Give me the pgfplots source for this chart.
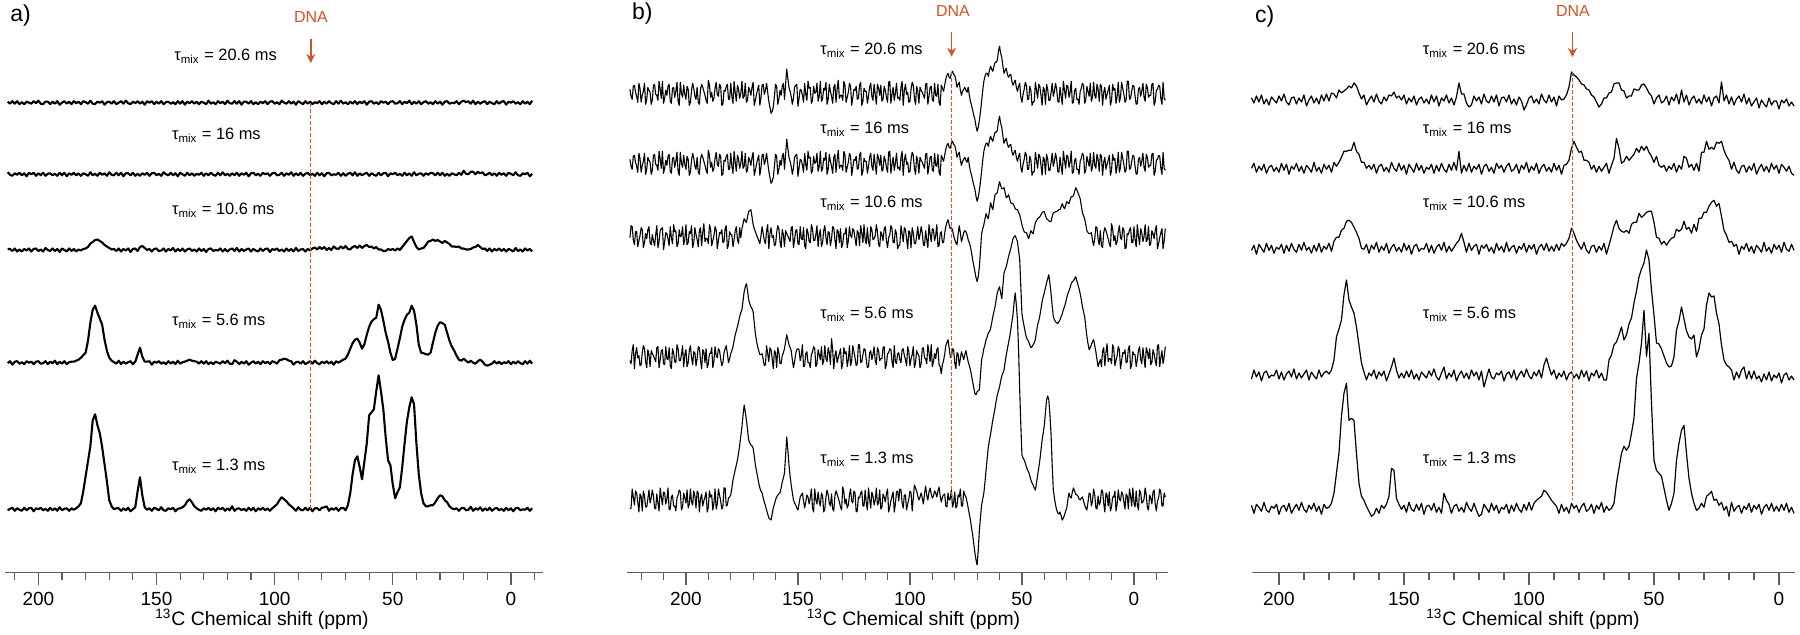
\documentclass[border=0pt]{standalone}
\usepackage{fontspec}
\setmainfont{Liberation Sans}
\usepackage{pgfplots}
\pgfplotsset{compat=1.18}
\usepackage{pgfplotstable}
\usetikzlibrary{arrows.meta}
\definecolor{dna}{RGB}{214,82,38}
\definecolor{axgray}{RGB}{95,95,95}

\pgfplotsset{
  nmr/.style={
    scale only axis, height=286.35pt, ymin=0, ymax=572.7,
    x dir=reverse, axis x line=bottom, axis y line=none,
    clip=false, tick align=outside,
    x axis line style={-, line width=0.7pt, draw=axgray},
    every tick/.style={line width=0.6pt, draw=axgray},
    major tick length=6pt, minor tick length=3.5pt,
    xtick={0,50,...,200},
    xticklabel style={font=\fontsize{9.5}{11}\selectfont},
    /pgf/number format/assume math mode=true,
    xlabel={\textsuperscript{13}C Chemical shift (ppm)},
  },
  trA/.style={black, line width=1.05pt, line join=round},
  trB/.style={black, line width=0.55pt, line join=round},
  trC/.style={black, line width=0.6pt, line join=round},
  dnaline/.style={dna, line width=0.7pt, dash pattern=on 2pt off 1pt},
  dnaarrow/.style={dna, line width=0.8pt, -{Stealth[length=4.5pt,width=4.5pt]}},
}
\tikzset{
  tau/.style={anchor=base west, inner sep=0pt, font=\fontsize{8.2}{10}\selectfont},
  dnat/.style={anchor=base, inner sep=0pt, text=dna, font=\fontsize{8}{9}\selectfont},
}

% ---------------- panel a (ppm = 213 - index) ----------------
\pgfplotstableread[header=false,row sep=\\]{
1\\ -1\\ 1.5\\ -1\\ 1.5\\ -1.5\\ 0.5\\ -1.5\\ 1\\ 0\\
-1\\ 1.5\\ -0.5\\ 2\\ -1\\ -1.5\\ 1\\ 1\\ -1.5\\ 1\\
-1\\ 1.5\\ -2\\ 0\\ 1.5\\ -1\\ 1\\ -1.5\\ 1.5\\ -0.5\\
1\\ -1.5\\ 1.5\\ 0.5\\ -1\\ 2\\ -1\\ -1.5\\ 1\\ 0\\
1.5\\ -2\\ 0.5\\ 1\\ -1\\ 1.5\\ -1.5\\ 0\\ 1.5\\ -1\\
2\\ -0.5\\ -1.5\\ 1\\ -0.5\\ 1.5\\ -1\\ 1\\ -2\\ 1.5\\
0\\ 1.5\\ -1.5\\ 1\\ -1\\ 1.5\\ -1.5\\ 0.5\\ 1\\ -1\\
0.5\\ -1.5\\ 1.5\\ -1\\ 1.5\\ -2\\ 1\\ -0.5\\ 1.5\\ -1\\
1\\ -1.5\\ 1\\ 0\\ -1.5\\ 2\\ -1\\ 0.5\\ -1.5\\ 1.5\\
-0.5\\ 1\\ -1.5\\ 2\\ -0.5\\ -1\\ 1.5\\ -1\\ 1.5\\ -2\\
1\\ 1\\ -1\\ 1.5\\ -1.5\\ 0.5\\ -1.5\\ 1\\ -0.5\\ 1.5\\
-1.5\\ 1\\ 1.5\\ -1\\ 0.5\\ -1.5\\ 2\\ 0\\ -1\\ 1.5\\
-1\\ 1\\ -2\\ 1.5\\ 0\\ -1.5\\ 1.5\\ -1\\ 1\\ -1.5\\
0.5\\ -0.5\\ 1.5\\ -1.5\\ 1\\ -1\\ 1.5\\ -0.5\\ -1.5\\ 1.5\\
-1\\ 2\\ -1\\ 0.5\\ -1.5\\ 1\\ -1\\ 1.5\\ -1.5\\ 1\\
-0.5\\ 1.5\\ -2\\ 1\\ 1.5\\ -1\\ 0.5\\ -1.5\\ 1.5\\ 0\\
1\\ -1.5\\ 1\\ 1.5\\ -1\\ -0.5\\ 1.5\\ -1.5\\ 1\\ -0.5\\
2\\ -1.5\\ 1\\ -1\\ 1.5\\ -1.5\\ 0.5\\ 1.5\\ -1\\ 0.5\\
-1.5\\ 1.5\\ -1\\ 1\\ -2\\ 1\\ 1.5\\ -1\\ 0\\ -0.5\\
1.5\\ -1.5\\ 1\\ 2\\ 0.5\\ 1.5\\ -1\\ 2\\ -1.5\\ 1\\
-1\\ 0.5\\ 1.5\\ -1.5\\ 1\\ -0.5\\ -1.5\\ 1.5\\ -1\\ 1\\
1.5\\ -2\\ 1\\ 0\\ 1.5\\ -1\\ 0.5\\ -1.5\\ 1.5\\ -1\\
1\\ -1.5\\ 2\\
}\TaA
\pgfplotstableread[header=false,row sep=\\]{
2\\ -0.5\\ -1.5\\ 1\\ -0.5\\ 1.5\\ -1\\ 1\\ -2\\ 1.5\\
0\\ 1.5\\ -1.5\\ 1\\ -1\\ 1.5\\ -1.5\\ 0.5\\ 1\\ -1\\
0.5\\ -1.5\\ 1.5\\ -1\\ 1.5\\ -2\\ 1\\ -0.5\\ 1.5\\ -1\\
1\\ -1.5\\ 1\\ 0\\ -1.5\\ 2\\ -1\\ 0.5\\ -1.5\\ 1.5\\
-0.5\\ 1\\ -1.5\\ 2\\ -0.5\\ -1\\ 1.5\\ -1\\ 1.5\\ -2\\
1\\ 1\\ -1\\ 1.5\\ -1.5\\ 0.5\\ -1.5\\ 1\\ -0.5\\ 1.5\\
-1.5\\ 1\\ 1.5\\ -1\\ 0.5\\ -1.5\\ 2\\ 0\\ -1\\ 1.5\\
-1\\ 1\\ -2\\ 1.5\\ 0\\ -1.5\\ 1.5\\ -1\\ 1\\ -1.5\\
0.5\\ -0.5\\ 1.5\\ -1.5\\ 1\\ -1\\ 1.5\\ -0.5\\ -1.5\\ 1.5\\
-1\\ 2\\ -1\\ 0.5\\ -1.5\\ 1\\ -1\\ 1.5\\ -1.5\\ 1\\
-0.5\\ 1.5\\ -2\\ 1\\ 1.5\\ -1\\ 0.5\\ -1.5\\ 1.5\\ 0\\
1\\ -1.5\\ 1\\ 1.5\\ -1\\ -0.5\\ 1.5\\ -1.5\\ 1\\ -0.5\\
2\\ -1.5\\ 1\\ -1\\ 1.5\\ -1.5\\ 0.5\\ 1.5\\ -1\\ 0.5\\
-1.5\\ 1.5\\ -1\\ 1\\ -2\\ 1\\ 1.5\\ -1\\ 0\\ -0.5\\
1.5\\ -1.5\\ 1\\ -1.5\\ 0.5\\ 1.5\\ -1\\ 2\\ -1.5\\ 1\\
-1\\ 0.5\\ 1.5\\ -1.5\\ 1\\ -0.5\\ -1.5\\ 1.5\\ -1\\ 1\\
1.5\\ -2\\ 1\\ 0\\ 1.5\\ -1\\ 0.5\\ -1.5\\ 1.5\\ -1\\
1\\ -1.5\\ 2\\ -1\\ 0.5\\ 1\\ -1.5\\ 1\\ -0.5\\ 1.5\\
1\\ -1\\ 1.5\\ -1\\ 1.5\\ -1.5\\ 0.5\\ -1.5\\ 1\\ 0\\
-1\\ 1.5\\ -0.5\\ 3.5\\ 0.5\\ 0\\ 2.5\\ 2.5\\ 0\\ 2.5\\
1\\ 2\\ -1\\ 0\\ 1.5\\ -1\\ 1\\ -1.5\\ 1.5\\ -0.5\\
1\\ -1.5\\ 1.5\\ 0.5\\ -1\\ 2\\ -1\\ -1.5\\ 1\\ 0\\
1.5\\ -2\\ 0.5\\
}\TaB
\pgfplotstableread[header=false,row sep=\\]{
1\\ 1\\ -1\\ 1.5\\ -1.5\\ 0.5\\ -1.5\\ 1\\ -0.5\\ 1.5\\
-1.5\\ 1\\ 1.5\\ -1\\ 0.5\\ -1.5\\ 2\\ 0\\ -1\\ 1.5\\
-1\\ 1\\ -2\\ 1.5\\ 0\\ -1.5\\ 1.5\\ -1\\ 1\\ -1.5\\
0.5\\ -0.5\\ 1\\ 1.5\\ 3\\ 6.5\\ 8\\ 10\\ 10.5\\ 9\\
7.5\\ 5\\ 3.5\\ 2\\ 0.5\\ 1\\ -1\\ 1.5\\ -1.5\\ 1\\
-0.5\\ 1.5\\ -2\\ 1\\ 1.5\\ -1\\ 3\\ 4\\ 2\\ 0\\
1\\ -1.5\\ 1\\ 1.5\\ -1\\ -0.5\\ 1.5\\ -1.5\\ 1\\ -0.5\\
2\\ -1.5\\ 1\\ -1\\ 1.5\\ -1.5\\ 0.5\\ 1.5\\ -1\\ 0.5\\
-1.5\\ 1.5\\ -1\\ 1\\ -2\\ 1\\ 1.5\\ -1\\ 0\\ -0.5\\
1.5\\ -1.5\\ 1\\ -1.5\\ 0.5\\ 1.5\\ -1\\ 2\\ -1.5\\ 1\\
-1\\ 0.5\\ 1.5\\ -1.5\\ 1\\ -0.5\\ -1.5\\ 1.5\\ -1\\ 1\\
1.5\\ -2\\ 1\\ 0\\ 1.5\\ -1\\ 0.5\\ -1.5\\ 1.5\\ -1\\
1\\ -1.5\\ 2\\ -1\\ 0.5\\ 1\\ -1.5\\ 1\\ -0.5\\ 1.5\\
2.5\\ 0.5\\ 3\\ 1\\ 3\\ 0\\ 2\\ 0\\ 3.5\\ 1.5\\
1\\ 3.5\\ 1.5\\ 4\\ 1\\ 0.5\\ 3\\ 4\\ 2\\ 4.5\\
2\\ 4\\ 5\\ 3\\ 3.5\\ 1.5\\ 3\\ 0.5\\ 0.5\\ -1\\
-1\\ 1\\ 0\\ 1\\ -0.5\\ 1.5\\ 0\\ 3\\ 6\\ 9\\
12\\ 13.5\\ 8\\ 3\\ 0.5\\ 1.5\\ 2\\ 5\\ 8.5\\ 9\\
10.5\\ 9\\ 10\\ 8.5\\ 7\\ 9\\ 7.5\\ 6\\ 3.5\\ 3.5\\
3\\ 3.5\\ 1.5\\ 1.5\\ 0.5\\ 0.5\\ 1\\ 2.5\\ 3\\ 5\\
3\\ 1\\ 1.5\\ -1\\ 1.5\\ -1.5\\ 1\\ -0.5\\ 1.5\\ -1\\
1\\ -1.5\\ 1\\ 0\\ -1.5\\ 2\\ -1\\ 0.5\\ -1.5\\ 1.5\\
-0.5\\ 1\\ -1.5\\
}\TaC
\pgfplotstableread[header=false,row sep=\\]{
-0.5\\ 1.5\\ -2\\ 1\\ 1.5\\ -1\\ 0.5\\ -1.5\\ 1.5\\ 0\\
1\\ -1.5\\ 1\\ 1.5\\ -1\\ -0.5\\ 1.5\\ -1.5\\ 1\\ -0.5\\
2\\ -1.5\\ 1\\ -1\\ 1.5\\ -1.5\\ 0.5\\ 1\\ 1\\ 2\\
3\\ 5\\ 7.5\\ 10\\ 22\\ 40\\ 53\\ 57\\ 50\\ 44\\
38\\ 23\\ 12\\ 5\\ 2\\ 0.5\\ -1\\ 2\\ -1.5\\ 1\\
-1\\ 0.5\\ 1.5\\ -1.5\\ 1\\ 8\\ 15\\ 6\\ 1\\ 1\\
1.5\\ -2\\ 1\\ 0\\ 1.5\\ -1\\ 0.5\\ -1.5\\ 1.5\\ -1\\
1\\ -1.5\\ 2\\ -1\\ 0.5\\ 1\\ 2\\ 3\\ 2\\ 1.5\\
1\\ -1\\ 1.5\\ -1\\ 1.5\\ -1.5\\ 0.5\\ -1.5\\ 1\\ 0\\
-1\\ 1.5\\ -0.5\\ 2\\ -1\\ -1.5\\ 2.5\\ 1\\ -1.5\\ 1\\
-1\\ 1.5\\ -2\\ 0\\ 1.5\\ -1\\ 1\\ -1.5\\ 1.5\\ -0.5\\
1\\ -1.5\\ 1.5\\ 0.5\\ -1\\ 2.5\\ 3\\ 4\\ 3.5\\ 2\\
1.5\\ -2\\ 0.5\\ 1\\ -1\\ 1.5\\ -1.5\\ 0\\ 1.5\\ -1\\
2\\ -0.5\\ -1.5\\ 1\\ -0.5\\ 1.5\\ -1\\ 1\\ -2\\ 1.5\\
0\\ 1.5\\ 3\\ 4\\ 8\\ 14\\ 19.5\\ 23\\ 24\\ 20\\
14\\ 18.5\\ 28\\ 36\\ 41\\ 43.5\\ 45\\ 58\\ 53\\ 42\\
30\\ 21\\ 10\\ 2.5\\ 4\\ 14\\ 24.5\\ 36\\ 43\\ 48\\
50\\ 57\\ 52\\ 38\\ 18\\ 10\\ 9.5\\ 8.5\\ 8\\ 10\\
20\\ 30\\ 37\\ 40.5\\ 39.5\\ 38\\ 30\\ 22\\ 16\\ 12\\
7\\ 3\\ 2\\ 4\\ 2\\ 0\\ 2\\ 0\\ -1\\ 1.5\\
3\\ 1\\ -2\\ -3\\ -2\\ -1\\ 1.5\\ -1\\ 1\\ -1.5\\
0.5\\ -0.5\\ 1.5\\ -1.5\\ 1\\ -1\\ 1.5\\ -0.5\\ -1.5\\ 1.5\\
-1\\ 2\\ -1\\
}\TaD
\pgfplotstableread[header=false,row sep=\\]{
-1\\ 0.5\\ 1.5\\ -1.5\\ 1\\ -0.5\\ -1.5\\ 1.5\\ -1\\ 1\\
1.5\\ -2\\ 1\\ 0\\ 1.5\\ -1\\ 0.5\\ -1.5\\ 1.5\\ -1\\
1\\ -1.5\\ 2\\ -1\\ 0.5\\ 1\\ -1.5\\ 1\\ -0.5\\ 1\\
3\\ 6\\ 18\\ 33\\ 48\\ 63\\ 89\\ 95\\ 84\\ 76\\
62\\ 45\\ 28\\ 9\\ 3\\ 0\\ 1\\ 1\\ -1.5\\ 1\\
-1\\ 1.5\\ -2\\ 0\\ 2\\ 18\\ 32\\ 14\\ 2\\ -0.5\\
1\\ -1.5\\ 1.5\\ 0.5\\ -1\\ 2\\ -1\\ -1.5\\ 1\\ 0\\
1.5\\ -2\\ 0.5\\ 1\\ 2\\ 4\\ 8\\ 10\\ 7\\ 3\\
1\\ -0.5\\ -1.5\\ 1\\ -0.5\\ 1.5\\ -1\\ 1\\ -2\\ 1.5\\
0\\ 1.5\\ -1.5\\ 1\\ -1\\ 3\\ -1.5\\ 0.5\\ 1\\ -1\\
0.5\\ -1.5\\ 1.5\\ -1\\ 1.5\\ -2\\ 1\\ -0.5\\ 1.5\\ -1\\
1\\ -1.5\\ 1\\ 3\\ 5\\ 9\\ 12\\ 10\\ 8\\ 5\\
3\\ 1\\ -1.5\\ 2\\ -0.5\\ -1\\ 1.5\\ -1\\ 1.5\\ -2\\
1\\ 1\\ -1\\ 1.5\\ 2\\ 3\\ -1.5\\ 1\\ -0.5\\ 1.5\\
-1.5\\ 1\\ 1.5\\ -1\\ 4\\ 16\\ 35\\ 49\\ 53\\ 42\\
30\\ 48\\ 66\\ 94\\ 97\\ 100\\ 118\\ 134\\ 118\\ 100\\
72\\ 49\\ 44\\ 25\\ 11\\ 17\\ 22\\ 42\\ 66\\ 88\\
102\\ 112\\ 105\\ 66\\ 35\\ 16\\ 6\\ 3\\ 3\\ 4\\
4\\ 7\\ 11\\ 14\\ 13\\ 9\\ 7\\ 3\\ 1\\ 0\\
1\\ -1.5\\ 1\\ 1.5\\ -1\\ -0.5\\ 2.5\\ -1.5\\ 1\\ -0.5\\
2\\ -1.5\\ 1\\ -1\\ 1.5\\ -1.5\\ 0.5\\ 1.5\\ -1\\ 0.5\\
-1.5\\ 1.5\\ -1\\ 1\\ -2\\ 1\\ 1.5\\ -1\\ 0\\ -0.5\\
1.5\\ -1.5\\ 1\\
}\TaE

% ---------------- panel b (ppm = 225 - 0.5*index) ----------------
\pgfplotstableread[header=false,row sep=\\]{
4\\ -3\\ -6\\ 7\\ 8\\ 1\\ -3\\ -9\\ 10\\ 5\\ -9\\ -2\\ 2\\ 10\\ -11\\ -6\\ 6\\ 3\\ 1\\ -11\\
-7\\ 8\\ 9\\ -1\\ -2\\ -7\\ 12\\ 4\\ -5\\ 12\\ -10\\ -5\\ 3\\ -2\\ 7\\ 9\\ -8\\ -10\\ 5\\ 6\\
-4\\ 2\\ 11\\ -8\\ -12\\ 11\\ 0\\ -4\\ 8\\ -1\\ -6\\ 7\\ 4\\ -12\\ -9\\ 3\\ 10\\ 5\\ -3\\ -6\\
6\\ -9\\ -11\\ 4\\ 9\\ 6\\ 2\\ -2\\ -7\\ -10\\ 13\\ 8\\ -4\\ 1\\ -8\\ -5\\ 5\\ 11\\ -1\\ -3\\
9\\ 7\\ -12\\ -11\\ 3\\ 2\\ 7\\ 9\\ -6\\ -6\\ 10\\ -3\\ -10\\ 12\\ 1\\ -8\\ 8\\ 4\\ -5\\ 0\\
12\\ -5\\ -3\\ 10\\ -9\\ -7\\ 6\\ 3\\ -2\\ 6\\ 11\\ -12\\ -7\\ -1\\ 4\\ 8\\ -12\\ -4\\ 8\\ 9\\
-1\\ 3\\ 10\\ 1\\ -8\\ -14\\ -20\\ -18\\ -14\\ -3\\ 9\\ 7\\ -11\\ -6\\ 3\\ -2\\ 7\\ 10\\ -6\\ 9\\
24\\ 15\\ 6\\ 2\\ -3\\ -11\\ -5\\ 6\\ 8\\ 9\\ -13\\ -5\\ 4\\ 3\\ -2\\ -9\\ 10\\ -1\\ -7\\ 12\\
5\\ 6\\ -10\\ -7\\ 7\\ 0\\ 1\\ 10\\ -8\\ -3\\ 12\\ -8\\ -6\\ 5\\ 3\\ 11\\ -11\\ -6\\ 9\\ 2\\
-3\\ -10\\ 6\\ 9\\ -9\\ 4\\ 13\\ -5\\ -2\\ -2\\ -7\\ 12\\ 8\\ -9\\ -4\\ 1\\ 10\\ 7\\ -12\\ -4\\
4\\ 3\\ 7\\ -6\\ -5\\ 8\\ 11\\ -12\\ -8\\ 5\\ 2\\ 2\\ -10\\ -3\\ 6\\ 10\\ -3\\ -7\\ 9\\ -1\\
-11\\ 9\\ 5\\ -2\\ 8\\ -8\\ -6\\ 7\\ 3\\ -4\\ -9\\ 11\\ 12\\ -10\\ -1\\ 6\\ -7\\ 0\\ 10\\ -5\\
-4\\ -7\\ 6\\ 12\\ -12\\ 3\\ 9\\ -1\\ 1\\ -9\\ -8\\ 4\\ 11\\ 8\\ -5\\ -11\\ 7\\ 2\\ -10\\ 6\\
3\\ 1\\ -2\\ -5\\ 9\\ 10\\ -11\\ -3\\ 6\\ 7\\ -7\\ -8\\ 10\\ -2\\ -3\\ 9\\ -9\\ -12\\ 8\\ 5\\
2\\ 8\\ 14\\ 18\\ 20\\ 16\\ 15\\ 20\\ 22\\ 19\\ 18\\ 13\\ 6\\ 9\\ 11\\ 3\\ -2\\ 2\\ 4\\ 6\\
3\\ 1\\ 6\\ -2\\ -8\\ -12\\ -17\\ -22\\ -26\\ -33\\ -38\\ -34\\ -27\\ -18\\ -8\\ 3\\ 12\\ 17\\ 20\\ 20\\
17\\ 23\\ 27\\ 24\\ 22\\ 27\\ 31\\ 31\\ 33\\ 42\\ 47\\ 40\\ 36\\ 27\\ 20\\ 23\\ 25\\ 19\\ 16\\ 18\\
19\\ 12\\ 8\\ 11\\ 13\\ 6\\ 2\\ 7\\ 10\\ -4\\ -9\\ -1\\ 4\\ 11\\ 8\\ -6\\ -6\\ 7\\ 3\\ -12\\
-9\\ -8\\ 11\\ 3\\ -5\\ 9\\ 7\\ -2\\ -12\\ 6\\ 4\\ -11\\ 9\\ 4\\ -7\\ -7\\ 1\\ 10\\ -3\\ 2\\
10\\ 4\\ -8\\ -9\\ 6\\ -3\\ -11\\ 12\\ 3\\ -5\\ 8\\ 7\\ -4\\ 1\\ 12\\ -10\\ -9\\ 3\\ 5\\ -6\\
-6\\ -11\\ 2\\ 5\\ 10\\ 8\\ -10\\ -7\\ 7\\ 2\\ -3\\ 10\\ -8\\ -4\\ 11\\ -2\\ -5\\ 9\\ 4\\ -8\\
9\\ 7\\ -12\\ 1\\ 6\\ -6\\ -1\\ 3\\ 8\\ -12\\ -7\\ 9\\ 3\\ 5\\ -10\\ -3\\ 11\\ -9\\ -4\\ 11\\
5\\ -1\\ -9\\ -7\\ 12\\ 12\\ -6\\ -5\\ 2\\ 8\\ 7\\ -3\\ -11\\ -10\\ 4\\ 6\\ -3\\ 2\\ 10\\ -4\\
-8\\ 9\\ 6\\ -4\\ -2\\ -2\\ 9\\ 10\\ -12\\ -8\\ 3\\ 4\\ 8\\ 7\\ -5\\ -11\\ 11\\ -5\\ -7\\
}\TbA
\pgfplotstableread[header=false,row sep=\\]{
-1\\ 11\\ 10\\ -3\\ -8\\ 5\\ 5\\ -10\\ -4\\ 1\\ 9\\ 7\\ -11\\ -6\\ 3\\ -2\\ 7\\ 10\\ -6\\ -8\\
2\\ -4\\ -9\\ 2\\ 11\\ -11\\ -5\\ 6\\ 8\\ 9\\ -13\\ -5\\ 4\\ 3\\ -2\\ -9\\ 10\\ -1\\ -7\\ 12\\
5\\ 6\\ -10\\ -7\\ 7\\ 0\\ 1\\ 10\\ -8\\ -3\\ 12\\ -8\\ -6\\ 5\\ 3\\ 11\\ -11\\ -6\\ 9\\ 2\\
-3\\ -10\\ 6\\ 9\\ -9\\ 4\\ 13\\ -5\\ -2\\ -2\\ -7\\ 12\\ 8\\ -9\\ -4\\ 1\\ 10\\ 7\\ -12\\ -4\\
4\\ 3\\ 7\\ -6\\ -5\\ 8\\ 11\\ -12\\ -8\\ 5\\ 2\\ 2\\ -10\\ -3\\ 6\\ 10\\ -3\\ -7\\ 9\\ -1\\
8\\ 13\\ 18\\ 16\\ 14\\ 20\\ 25\\ 26\\ 27\\ 20\\ 12\\ 8\\ 5\\ 2\\ -1\\ -4\\ -7\\ 1\\ 10\\ 3\\
-4\\ -7\\ 6\\ 12\\ -12\\ 3\\ 9\\ -1\\ 1\\ -9\\ -8\\ 4\\ 11\\ 8\\ -5\\ -11\\ 7\\ 2\\ -10\\ 6\\
3\\ 1\\ -2\\ -5\\ 9\\ 10\\ -11\\ -3\\ 6\\ 7\\ -7\\ -8\\ 10\\ -2\\ -3\\ 9\\ -9\\ -12\\ 8\\ 4\\
-5\\ -6\\ 12\\ 8\\ -4\\ -4\\ 2\\ 11\\ -10\\ 2\\ 7\\ -10\\ -6\\ 6\\ 11\\ -1\\ -8\\ 5\\ 4\\ -9\\
-2\\ 10\\ 9\\ -3\\ -12\\ 7\\ 5\\ -6\\ 8\\ -11\\ -7\\ 3\\ 3\\ 9\\ -11\\ -4\\ 10\\ 1\\ -1\\ 8\\
6\\ -2\\ -9\\ 6\\ 4\\ -9\\ 11\\ 4\\ -6\\ 12\\ -3\\ -7\\ 9\\ -5\\ -10\\ 10\\ 7\\ -3\\ -2\\ 1\\
12\\ 5\\ -8\\ -10\\ 5\\ 2\\ -4\\ 8\\ 10\\ -4\\ -11\\ -1\\ 2\\ 11\\ 8\\ -6\\ -6\\ 7\\ 3\\ -12\\
-9\\ -8\\ 11\\ 3\\ -5\\ 9\\ 7\\ -2\\ -12\\ 6\\ 4\\ -11\\ 9\\ 4\\ -7\\ -7\\ 1\\ 10\\ -3\\ 2\\
10\\ 4\\ -8\\ -9\\ 6\\ -3\\ -11\\ 12\\ 3\\ -5\\ 8\\ 7\\ -4\\ 1\\ 12\\ -10\\ -9\\ 3\\ 5\\ -6\\
-6\\ 3\\ 10\\ 14\\ 17\\ 12\\ 8\\ 9\\ 7\\ 1\\ -3\\ -6\\ -8\\ 2\\ 11\\ 4\\ -5\\ -1\\ 4\\ 6\\
5\\ 2\\ -3\\ -6\\ -10\\ -16\\ -23\\ -29\\ -35\\ -41\\ -45\\ -40\\ -30\\ -14\\ 3\\ 8\\ 12\\ 18\\ 23\\ 20\\
18\\ 26\\ 34\\ 30\\ 27\\ 35\\ 42\\ 43\\ 44\\ 50\\ 55\\ 51\\ 48\\ 48\\ 49\\ 44\\ 39\\ 40\\ 42\\ 38\\
34\\ 33\\ 33\\ 31\\ 28\\ 27\\ 27\\ 24\\ 22\\ 17\\ 12\\ 8\\ 5\\ 4\\ 4\\ 1\\ -2\\ 2\\ 6\\ 4\\
3\\ 9\\ 14\\ 16\\ 18\\ 19\\ 20\\ 22\\ 24\\ 25\\ 25\\ 21\\ 18\\ 17\\ 16\\ 15\\ 15\\ 20\\ 24\\ 24\\
25\\ 25\\ 26\\ 27\\ 27\\ 30\\ 33\\ 30\\ 28\\ 31\\ 35\\ 34\\ 33\\ 37\\ 40\\ 40\\ 41\\ 45\\ 49\\ 47\\
44\\ 41\\ 38\\ 31\\ 24\\ 21\\ 18\\ 12\\ 6\\ 4\\ 3\\ 3\\ 4\\ -4\\ -9\\ -2\\ 10\\ 9\\ -3\\ -8\\
6\\ -9\\ -11\\ 4\\ 9\\ 6\\ 2\\ -2\\ -7\\ -10\\ 13\\ 8\\ -4\\ 1\\ -8\\ -5\\ 5\\ 11\\ -1\\ -3\\
9\\ 7\\ -12\\ -11\\ 3\\ 2\\ 7\\ 9\\ -6\\ -6\\ 10\\ -3\\ -10\\ 12\\ 1\\ -8\\ 8\\ 4\\ -5\\ 0\\
12\\ -5\\ -3\\ 10\\ -9\\ -7\\ 6\\ 3\\ -2\\ 6\\ 11\\ -12\\ -7\\ -1\\ 4\\ 8\\ -12\\ -4\\ 8\\
}\TbC
\pgfplotstableread[header=false,row sep=\\]{
-4\\ -7\\ 6\\ 12\\ -12\\ 3\\ 9\\ -1\\ 1\\ -9\\ -8\\ 4\\ 11\\ 8\\ -5\\ -11\\ 7\\ 2\\ -10\\ 6\\
3\\ 1\\ -2\\ -5\\ 9\\ 10\\ -11\\ -3\\ 6\\ 7\\ -7\\ -8\\ 10\\ -2\\ -3\\ 9\\ -9\\ -12\\ 8\\ 4\\
-5\\ -6\\ 12\\ 8\\ -4\\ -4\\ 2\\ 11\\ -10\\ 2\\ 7\\ -10\\ -6\\ 6\\ 11\\ -1\\ -8\\ 5\\ 4\\ -9\\
-2\\ 10\\ 9\\ -3\\ -12\\ 7\\ 5\\ -6\\ 8\\ -11\\ -7\\ 3\\ 3\\ 9\\ -11\\ -4\\ 10\\ 1\\ -1\\ 8\\
6\\ -2\\ -9\\ -6\\ 4\\ 8\\ 11\\ 3\\ -6\\ -2\\ 3\\ 6\\ 10\\ 16\\ 22\\ 26\\ 30\\ 35\\ 40\\ 44\\
47\\ 56\\ 65\\ 70\\ 73\\ 66\\ 57\\ 53\\ 50\\ 48\\ 45\\ 34\\ 23\\ 16\\ 10\\ 6\\ 2\\ 2\\ 3\\ -3\\
-9\\ -8\\ 11\\ 3\\ -5\\ 9\\ 7\\ -2\\ -12\\ 6\\ 4\\ -11\\ 9\\ 4\\ -7\\ -7\\ 1\\ 4\\ 8\\ 15\\
22\\ 17\\ 12\\ 9\\ 6\\ -3\\ -11\\ -5\\ 3\\ 7\\ 8\\ 7\\ -4\\ 1\\ 12\\ -10\\ -9\\ 3\\ 5\\ -6\\
-6\\ -11\\ 2\\ 5\\ 10\\ 8\\ -10\\ -7\\ 7\\ 2\\ -3\\ 10\\ -8\\ -4\\ 11\\ -2\\ -5\\ 9\\ 4\\ -8\\
18\\ 7\\ -12\\ 1\\ 6\\ -6\\ -1\\ 3\\ 8\\ -12\\ -7\\ 9\\ 3\\ 5\\ -10\\ -3\\ 11\\ -9\\ -4\\ 11\\
5\\ -1\\ -9\\ -7\\ 12\\ 12\\ -6\\ -5\\ 2\\ 8\\ 7\\ -3\\ -11\\ -10\\ 4\\ 6\\ -3\\ 2\\ 10\\ -4\\
-8\\ 9\\ 6\\ -4\\ -2\\ -2\\ 9\\ 10\\ -12\\ -8\\ 3\\ 4\\ 8\\ 7\\ -5\\ -11\\ 11\\ -5\\ -7\\ 3\\
4\\ -3\\ -6\\ 7\\ 8\\ 1\\ -3\\ -9\\ 10\\ 5\\ -9\\ -2\\ 2\\ 10\\ -11\\ -6\\ 6\\ 3\\ 1\\ -11\\
-7\\ 8\\ 9\\ -1\\ -2\\ -7\\ 12\\ 4\\ -5\\ 12\\ -10\\ -5\\ 3\\ -2\\ 7\\ 9\\ -8\\ -10\\ -17\\ -8\\
-4\\ 2\\ 11\\ 14\\ 17\\ 9\\ 0\\ -1\\ 8\\ 7\\ -6\\ -12\\ 4\\ 3\\ -9\\ -2\\ 5\\ 1\\ -3\\ 2\\
6\\ 0\\ -5\\ -9\\ -13\\ -19\\ -25\\ -31\\ -37\\ -38\\ -35\\ -34\\ -33\\ -18\\ -3\\ 2\\ 8\\ 12\\ 17\\ 20\\
24\\ 25\\ 28\\ 34\\ 40\\ 45\\ 50\\ 57\\ 64\\ 67\\ 70\\ 64\\ 58\\ 71\\ 84\\ 87\\ 90\\ 95\\ 100\\ 104\\
108\\ 113\\ 118\\ 120\\ 121\\ 118\\ 115\\ 106\\ 97\\ 70\\ 43\\ 36\\ 30\\ 24\\ 19\\ 17\\ 15\\ 12\\ 9\\ 10\\
12\\ 14\\ 17\\ 25\\ 32\\ 36\\ 41\\ 48\\ 55\\ 60\\ 64\\ 69\\ 74\\ 78\\ 82\\ 73\\ 63\\ 51\\ 40\\ 37\\
35\\ 34\\ 33\\ 35\\ 37\\ 40\\ 43\\ 47\\ 50\\ 54\\ 59\\ 63\\ 66\\ 69\\ 73\\ 75\\ 76\\ 78\\ 80\\ 76\\
72\\ 68\\ 63\\ 57\\ 50\\ 45\\ 40\\ 30\\ 20\\ 13\\ 7\\ 9\\ 12\\ 15\\ 17\\ 11\\ 5\\ -3\\ -10\\ -6\\
-3\\ -10\\ 6\\ 9\\ -9\\ 4\\ 13\\ -5\\ -2\\ -2\\ -7\\ 12\\ 8\\ -9\\ -4\\ 1\\ 10\\ 7\\ -12\\ -4\\
4\\ 3\\ 7\\ -6\\ -5\\ 8\\ 11\\ -12\\ -8\\ 5\\ 2\\ 2\\ -10\\ -3\\ 6\\ 10\\ -3\\ -7\\ 9\\ -1\\
-11\\ 9\\ 5\\ -2\\ 8\\ -8\\ -6\\ 7\\ 3\\ -4\\ -9\\ 11\\ 12\\ -10\\ -1\\ 6\\ -7\\ 0\\ 10\\
}\TbD
\pgfplotstableread[header=false,row sep=\\]{
-9\\ -8\\ 11\\ 3\\ -5\\ 9\\ 7\\ -2\\ -12\\ 6\\ 4\\ -11\\ 9\\ 4\\ -7\\ -7\\ 1\\ 10\\ -3\\ 2\\
10\\ 4\\ -8\\ -9\\ 6\\ -3\\ -11\\ 12\\ 3\\ -5\\ 8\\ 7\\ -4\\ 1\\ 12\\ -10\\ -9\\ 3\\ 5\\ -6\\
-6\\ -11\\ 2\\ 5\\ 10\\ 8\\ -10\\ -7\\ 7\\ 2\\ -3\\ 10\\ -8\\ -4\\ 11\\ -2\\ -5\\ 9\\ 4\\ -8\\
9\\ 7\\ -12\\ 1\\ 6\\ -6\\ -1\\ 3\\ 8\\ -12\\ -7\\ 9\\ 3\\ 5\\ -10\\ -3\\ 11\\ -9\\ -4\\ 11\\
5\\ -1\\ -9\\ -7\\ 12\\ 12\\ -6\\ -5\\ 2\\ 3\\ 5\\ 12\\ 20\\ 25\\ 30\\ 35\\ 40\\ 47\\ 55\\ 64\\
73\\ 85\\ 95\\ 88\\ 80\\ 70\\ 60\\ 57\\ 55\\ 54\\ 52\\ 44\\ 35\\ 29\\ 23\\ 17\\ 12\\ 9\\ 7\\ 2\\
-2\\ -6\\ -10\\ -14\\ -18\\ -19\\ -20\\ -14\\ -8\\ -4\\ 0\\ 3\\ 5\\ 6\\ 7\\ 12\\ 18\\ 22\\ 27\\ 45\\
63\\ 50\\ 35\\ 24\\ 15\\ 7\\ 0\\ -3\\ -5\\ -8\\ -10\\ -4\\ 3\\ 5\\ 7\\ -1\\ -8\\ -2\\ 5\\ 3\\
-4\\ 2\\ 11\\ -8\\ -12\\ 11\\ 0\\ -4\\ 8\\ -1\\ -6\\ 7\\ 4\\ -12\\ -9\\ 3\\ 10\\ 5\\ -3\\ -6\\
6\\ -9\\ -11\\ 4\\ 9\\ 6\\ 2\\ -2\\ -7\\ -10\\ 13\\ 8\\ -4\\ 1\\ -8\\ -5\\ 5\\ 11\\ -1\\ -3\\
9\\ 7\\ -12\\ -11\\ 3\\ 2\\ 7\\ 9\\ -6\\ -6\\ 10\\ -3\\ -10\\ 12\\ 1\\ -8\\ 8\\ 4\\ -5\\ 0\\
12\\ -5\\ -3\\ 10\\ -9\\ -7\\ 6\\ 3\\ -2\\ 6\\ 11\\ -12\\ -7\\ -1\\ 4\\ 8\\ -12\\ -4\\ 8\\ 9\\
-1\\ 11\\ 10\\ -3\\ -8\\ 5\\ 5\\ -10\\ -4\\ 1\\ 9\\ 7\\ -11\\ 2\\ 15\\ 12\\ 9\\ 4\\ 0\\ 3\\
7\\ 2\\ -4\\ 6\\ 14\\ 5\\ 0\\ 8\\ 12\\ 6\\ 2\\ 4\\ 9\\ 7\\ 3\\ 9\\ 13\\ 4\\ -2\\ 3\\
5\\ 6\\ -6\\ -7\\ 7\\ 0\\ 1\\ 10\\ -7\\ -3\\ 8\\ -8\\ -6\\ 5\\ 3\\ 11\\ -6\\ -6\\ 9\\ 5\\
3\\ -2\\ -8\\ -14\\ -20\\ -28\\ -35\\ -44\\ -53\\ -60\\ -65\\ -50\\ -30\\ -17\\ -5\\ 1\\ 7\\ 18\\ 30\\ 42\\
53\\ 60\\ 66\\ 73\\ 80\\ 86\\ 92\\ 99\\ 105\\ 109\\ 113\\ 119\\ 124\\ 127\\ 130\\ 138\\ 145\\ 151\\ 157\\ 163\\
170\\ 178\\ 185\\ 198\\ 207\\ 195\\ 180\\ 150\\ 110\\ 75\\ 45\\ 42\\ 40\\ 37\\ 33\\ 30\\ 28\\ 24\\ 20\\ 17\\
15\\ 12\\ 10\\ 17\\ 25\\ 32\\ 40\\ 50\\ 60\\ 67\\ 75\\ 88\\ 100\\ 104\\ 100\\ 85\\ 65\\ 35\\ 10\\ 2\\
-5\\ -10\\ -13\\ -14\\ -12\\ -16\\ -20\\ -18\\ -15\\ -11\\ -8\\ 0\\ 7\\ 3\\ 2\\ 8\\ 12\\ 9\\ 6\\ 5\\
4\\ 1\\ 0\\ 2\\ 3\\ -1\\ -5\\ -8\\ -10\\ -2\\ 7\\ 6\\ -6\\ -1\\ 11\\ 5\\ -8\\ -9\\ 4\\ -5\\
-2\\ 10\\ 9\\ -3\\ -12\\ 7\\ 5\\ -6\\ 8\\ -11\\ -7\\ 3\\ 3\\ 9\\ -11\\ -4\\ 10\\ 1\\ -1\\ 8\\
6\\ -2\\ -9\\ 6\\ 4\\ -9\\ 11\\ 4\\ -6\\ 12\\ -3\\ -7\\ 9\\ -5\\ -10\\ 10\\ 7\\ -3\\ -2\\ 1\\
12\\ 5\\ -8\\ -10\\ 5\\ 2\\ -4\\ 8\\ 10\\ -4\\ -11\\ -1\\ 2\\ 11\\ 8\\ -6\\ -6\\ 7\\ 3\\
}\TbE

% ---------------- panel c (ppm = 211 - index) ----------------
\pgfplotstableread[header=false,row sep=\\]{
2\\ -3\\ 4\\ -2\\ 5\\ -4\\ 1\\ -5\\ 3\\ 0\\
-3\\ 4\\ -1\\ 6\\ -2\\ -5\\ 2\\ 3\\ -4\\ 2\\
-2\\ 5\\ -6\\ 0\\ 4\\ -3\\ 2\\ -4\\ 5\\ -1\\
6\\ -1\\ 7\\ 6\\ 2\\ 10\\ 7\\ 9\\ 11\\ 14\\
12\\ 17\\ 14\\ 7\\ 1\\ 5\\ -5\\ 0\\ 4\\ -2\\
6\\ -1\\ -4\\ 3\\ -1\\ 5\\ 4\\ 8\\ 2\\ 4\\
0\\ 5\\ -4\\ 2\\ -2\\ 4\\ -5\\ 1\\ 3\\ -3\\
1\\ -4\\ 5\\ -2\\ 4\\ -6\\ 2\\ -1\\ 5\\ -3\\
2\\ -5\\ 3\\ 17\\ 6\\ 6\\ -3\\ -7\\ -5\\ 4\\
-1\\ 3\\ -4\\ 6\\ -1\\ -3\\ 4\\ -2\\ 5\\ -6\\
2\\ 3\\ -2\\ 5\\ -4\\ 1\\ -5\\ 3\\ -1\\ -10\\
-5\\ 2\\ 4\\ -3\\ 1\\ -4\\ 6\\ 0\\ -3\\ 5\\
-2\\ 3\\ -6\\ 4\\ 0\\ 1\\ 5\\ 13\\ 28\\ 25\\
23\\ 20\\ 16\\ 15\\ 11\\ 10\\ 5\\ 3\\ -2\\ -7\\
-4\\ 2\\ 2\\ 7\\ 8\\ 16\\ 17\\ 17\\ 10\\ 9\\
2\\ 4\\ 4\\ 11\\ 10\\ 10\\ 15\\ 16\\ 12\\ 7\\
4\\ -4\\ 2\\ 5\\ -3\\ -1\\ 4\\ -5\\ 3\\ -1\\
6\\ -4\\ 10\\ -2\\ 5\\ -5\\ 1\\ 4\\ -3\\ 1\\
-4\\ 5\\ -2\\ 3\\ -6\\ 2\\ 4\\ -3\\ 18\\ -1\\
5\\ -4\\ 3\\ -5\\ 1\\ 4\\ -2\\ 6\\ -4\\ 2\\
-6\\ -2\\ 2\\ -8\\ 0\\ -4\\ -7\\ 2\\ -5\\ -1\\
-1\\ -9\\ 0\\ -3\\ 1\\ -6\\ -2\\ -6\\
}\TcA
\pgfplotstableread[header=false,row sep=\\]{
0\\ 5\\ -4\\ 2\\ -2\\ 4\\ -5\\ 1\\ 3\\ -3\\
1\\ -4\\ 5\\ -2\\ 4\\ -6\\ 2\\ -1\\ 5\\ -3\\
2\\ -5\\ 3\\ 0\\ -4\\ 6\\ -3\\ 1\\ -5\\ 4\\
-1\\ 3\\ -4\\ 6\\ 2\\ 6\\ 11\\ 17\\ 17\\ 18\\
18\\ 26\\ 17\\ 14\\ 6\\ 6\\ 0\\ 3\\ -1\\ 4\\
-5\\ 2\\ 4\\ -3\\ 1\\ -4\\ 6\\ 0\\ -3\\ 5\\
-2\\ 3\\ -6\\ 4\\ 0\\ -4\\ 5\\ -2\\ 3\\ -5\\
1\\ -1\\ 4\\ -5\\ 3\\ -3\\ 5\\ -1\\ -4\\ 4\\
-2\\ 6\\ -2\\ 17\\ -5\\ 3\\ -3\\ 5\\ -4\\ 2\\
-1\\ 4\\ -6\\ 2\\ 4\\ -3\\ 1\\ -5\\ 5\\ 0\\
3\\ -4\\ 2\\ 5\\ -3\\ -1\\ 4\\ -5\\ 3\\ -1\\
6\\ -4\\ 2\\ -2\\ 5\\ -5\\ 1\\ 4\\ -3\\ 1\\
-4\\ 5\\ -2\\ 3\\ -6\\ 3\\ 4\\ 8\\ 20\\ 27\\
21\\ 16\\ 17\\ 8\\ 8\\ 6\\ -1\\ 3\\ -4\\ 2\\
-3\\ 1\\ 5\\ -5\\ 3\\ 10\\ 30\\ 20\\ 5\\ 7\\
12\\ 8\\ 11\\ 14\\ 20\\ 16\\ 22\\ 18\\ 22\\ 16\\
12\\ 6\\ 12\\ 3\\ 1\\ 3\\ -3\\ 2\\ -1\\ 5\\
-4\\ 3\\ -1\\ 12\\ 10\\ 1\\ 4\\ -2\\ 5\\ -3\\
16\\ 16\\ 27\\ 19\\ 21\\ 19\\ 26\\ 25\\ 27\\ 18\\
12\\ 8\\ -1\\ 6\\ -2\\ -5\\ 2\\ 3\\ -4\\ 2\\
-2\\ 5\\ -6\\ 0\\ 4\\ -3\\ 2\\ -4\\ 5\\ -1\\
3\\ -5\\ 4\\ 1\\ -3\\ 2\\ -5\\ -7\\
}\TcB
\pgfplotstableread[header=false,row sep=\\]{
-2\\ 3\\ -6\\ 4\\ 0\\ -4\\ 5\\ -2\\ 3\\ -5\\
1\\ -1\\ 4\\ -5\\ 3\\ -3\\ 5\\ -1\\ -4\\ 4\\
-2\\ 6\\ -2\\ 1\\ -5\\ 3\\ -3\\ 5\\ -4\\ 2\\
-1\\ 5\\ -3\\ 7\\ 11\\ 11\\ 18\\ 20\\ 27\\ 28\\
26\\ 21\\ 16\\ 10\\ 0\\ -1\\ 4\\ -5\\ 3\\ -1\\
6\\ -4\\ 2\\ -2\\ 5\\ -5\\ 1\\ 4\\ -3\\ 1\\
-4\\ 5\\ -2\\ 3\\ -6\\ 2\\ 4\\ -3\\ 0\\ -1\\
5\\ -4\\ 3\\ -5\\ 1\\ 4\\ -2\\ 6\\ -4\\ 2\\
-3\\ 1\\ 5\\ 8\\ 15\\ 6\\ -4\\ 5\\ -2\\ 2\\
4\\ -6\\ 3\\ 0\\ 4\\ -3\\ 1\\ -5\\ 5\\ -2\\
2\\ -4\\ 6\\ -3\\ 1\\ 3\\ -5\\ 2\\ -1\\ 5\\
-4\\ 3\\ -1\\ 4\\ -6\\ 1\\ 4\\ -2\\ 5\\ -3\\
2\\ -3\\ 4\\ -2\\ 5\\ 2\\ 5\\ 10\\ 20\\ 15\\
8\\ 3\\ -1\\ 6\\ -2\\ -5\\ 2\\ 3\\ -4\\ 2\\
-2\\ 5\\ -6\\ 3\\ 12\\ 22\\ 28\\ 20\\ 17\\ 16\\
18\\ 15\\ 24\\ 26\\ 26\\ 35\\ 31\\ 33\\ 36\\ 37\\
37\\ 26\\ 11\\ 10\\ 4\\ 7\\ 3\\ 7\\ 10\\ 11\\
19\\ 17\\ 19\\ 27\\ 19\\ 21\\ 15\\ 24\\ 17\\ 30\\
30\\ 36\\ 36\\ 42\\ 46\\ 48\\ 42\\ 45\\ 32\\ 18\\
13\\ 6\\ 7\\ 2\\ 4\\ -6\\ 2\\ -1\\ 5\\ -3\\
2\\ -5\\ 3\\ 0\\ -4\\ 6\\ -3\\ 1\\ -5\\ 4\\
-1\\ 3\\ -4\\ 6\\ -1\\ -3\\ 4\\ -2\\
}\TcC
\pgfplotstableread[header=false,row sep=\\]{
-4\\ 5\\ -2\\ 3\\ -6\\ 2\\ 4\\ -3\\ 0\\ -1\\
5\\ -4\\ 3\\ -5\\ 1\\ 4\\ -2\\ 6\\ -4\\ 2\\
-3\\ 1\\ 5\\ -5\\ 3\\ -1\\ -4\\ 5\\ -2\\ 2\\
4\\ 1\\ 5\\ 15\\ 38\\ 46\\ 55\\ 80\\ 95\\ 75\\
68\\ 62\\ 48\\ 30\\ 12\\ 3\\ -5\\ 2\\ -1\\ 5\\
-4\\ 3\\ -1\\ 4\\ -6\\ 1\\ 8\\ 17\\ 5\\ -3\\
2\\ -3\\ 4\\ -2\\ 5\\ -4\\ 1\\ -5\\ 3\\ 0\\
-3\\ 4\\ -1\\ 6\\ -2\\ -5\\ 2\\ 8\\ -4\\ 2\\
-2\\ 5\\ -6\\ 0\\ 4\\ -3\\ 2\\ -4\\ 5\\ -1\\
3\\ -5\\ 4\\ -12\\ -3\\ 6\\ -2\\ -4\\ 2\\ 0\\
4\\ -6\\ 1\\ 3\\ -3\\ 5\\ -5\\ 0\\ 4\\ -2\\
6\\ -1\\ -4\\ 3\\ -1\\ 5\\ -3\\ 10\\ 17\\ 8\\
0\\ 5\\ -4\\ 2\\ -2\\ 4\\ -5\\ 1\\ 3\\ -3\\
1\\ -4\\ 5\\ -2\\ 4\\ -6\\ 2\\ -1\\ 5\\ -3\\
2\\ -5\\ -5\\ 15\\ 20\\ 30\\ 33\\ 40\\ 48\\ 35\\
40\\ 51\\ 57\\ 72\\ 84\\ 98\\ 106\\ 112\\ 125\\ 115\\
85\\ 60\\ 32\\ 31\\ 26\\ 19\\ 12\\ 8\\ 9\\ 18\\
45\\ 54\\ 68\\ 56\\ 44\\ 38\\ 36\\ 40\\ 18\\ 26\\
40\\ 46\\ 70\\ 82\\ 78\\ 79\\ 62\\ 51\\ 30\\ 15\\
10\\ 8\\ 5\\ -5\\ 3\\ -3\\ 5\\ 8\\ -4\\ 4\\
-4\\ 4\\ -4\\ -1\\ -7\\ 1\\ -5\\ 3\\ -6\\ 0\\
-3\\ 2\\ -8\\ 0\\ 2\\ -5\\ -1\\ -5\\
}\TcD
\pgfplotstableread[header=false,row sep=\\]{
3\\ -5\\ 4\\ 1\\ -3\\ 6\\ -2\\ -4\\ 2\\ 0\\
4\\ -6\\ 1\\ 3\\ -3\\ 5\\ -5\\ 0\\ 4\\ -2\\
6\\ -1\\ -4\\ 3\\ -1\\ 5\\ -3\\ 2\\ -6\\ 4\\
0\\ 1\\ 5\\ 15\\ 35\\ 55\\ 92\\ 115\\ 125\\ 88\\
90\\ 88\\ 55\\ 25\\ 12\\ 8\\ 2\\ -3\\ -8\\ -6\\
0\\ -5\\ 3\\ 0\\ 4\\ 12\\ 40\\ 38\\ 10\\ 4\\
-1\\ 3\\ -4\\ 6\\ -1\\ -3\\ 4\\ -2\\ 5\\ -6\\
2\\ 3\\ -2\\ 5\\ -4\\ 1\\ -5\\ 15\\ 8\\ 4\\
-5\\ 2\\ 4\\ -3\\ 1\\ -4\\ 6\\ 0\\ -3\\ 5\\
-2\\ -8\\ -6\\ 4\\ 0\\ -4\\ 5\\ -2\\ 3\\ -5\\
1\\ -1\\ 4\\ -5\\ 3\\ -3\\ 5\\ -1\\ -4\\ 4\\
-2\\ 6\\ -2\\ 5\\ 8\\ 10\\ 12\\ 18\\ 16\\ 12\\
8\\ 5\\ 2\\ -5\\ 4\\ -3\\ 1\\ -5\\ 5\\ 0\\
3\\ -4\\ 2\\ 5\\ -3\\ -1\\ 4\\ -5\\ 3\\ -1\\
6\\ -4\\ 2\\ -2\\ 0\\ 5\\ 25\\ 40\\ 55\\ 62\\
58\\ 62\\ 75\\ 90\\ 130\\ 145\\ 165\\ 198\\ 152\\ 175\\
105\\ 48\\ 38\\ 35\\ 32\\ 20\\ 8\\ -2\\ 5\\ 15\\
48\\ 65\\ 78\\ 83\\ 55\\ 30\\ 15\\ 5\\ -2\\ 0\\
5\\ 1\\ 12\\ 14\\ 17\\ 8\\ 9\\ 3\\ 6\\ -2\\
2\\ -8\\ 6\\ -3\\ 1\\ 3\\ -5\\ 2\\ -1\\ 5\\
-4\\ 3\\ -1\\ 4\\ -6\\ 1\\ 4\\ -2\\ 5\\ -3\\
2\\ -3\\ 4\\ -2\\ 5\\ -4\\ 1\\ -5\\
}\TcE

\begin{document}
\begin{tikzpicture}
\useasboundingbox (0,0) rectangle (900pt,317.5pt);

% ================= panel a =================
\begin{axis}[nmr, at={(2.3pt,31.15pt)}, anchor=south west,
  width=269.4pt, xmin=-13.75, xmax=214.3,
  minor xtick={-10,0,...,210},
  xlabel style={at={(axis description cs:0.4777,0)}, anchor=base, yshift=-26.65pt, font=\fontsize{9.7}{11}\selectfont}]
\addplot[trA] table[x index=0, y index=0, x expr={213-\coordindex}, y expr={\thisrowno{0}+470}] {\TaA};
\addplot[trA] table[x index=0, y index=0, x expr={213-\coordindex}, y expr={\thisrowno{0}+398.4}] {\TaB};
\addplot[trA] table[x index=0, y index=0, x expr={213-\coordindex}, y expr={\thisrowno{0}+322.7}] {\TaC};
\addplot[trA] table[x index=0, y index=0, x expr={213-\coordindex}, y expr={\thisrowno{0}+210}] {\TaD};
\addplot[trA] table[x index=0, y index=0, x expr={213-\coordindex}, y expr={\thisrowno{0}+63.4}] {\TaE};
\addplot[dnaline] coordinates {(84.7,469.7) (84.7,62.5)};
\addplot[dnaarrow] coordinates {(84.7,533.7) (84.7,509.7)};
\node[dnat] at (axis cs:84.6,549.7) {DNA};
\node[tau] at (axis cs:142.6,511.7) {τ\textsubscript{mix} = 20.6 ms};
\node[tau] at (axis cs:143.6,432.7) {τ\textsubscript{mix} = 16 ms};
\node[tau] at (axis cs:143.6,358.4) {τ\textsubscript{mix} = 10.6 ms};
\node[tau] at (axis cs:143.6,247) {τ\textsubscript{mix} = 5.6 ms};
\node[tau] at (axis cs:143.6,101.7) {τ\textsubscript{mix} = 1.3 ms};
\end{axis}

% ================= panel b =================
\begin{axis}[nmr, at={(313.4pt,31.15pt)}, anchor=south west,
  width=270.6pt, xmin=-15.2, xmax=226.4,
  minor xtick={-10,0,...,220},
  xlabel style={at={(axis description cs:0.5298,0)}, anchor=base, yshift=-26.65pt, font=\fontsize{9.7}{11}\selectfont}]
\addplot[trB] table[x index=0, y index=0, x expr={225-0.5*\coordindex}, y expr={\thisrowno{0}+479.4}] {\TbA};
\addplot[trB] table[x index=0, y index=0, x expr={225-0.5*\coordindex}, y expr={\thisrowno{0}+409.4}] {\TbA};
\addplot[trB] table[x index=0, y index=0, x expr={225-0.5*\coordindex}, y expr={\thisrowno{0}+336}] {\TbC};
\addplot[trB] table[x index=0, y index=0, x expr={225-0.5*\coordindex}, y expr={\thisrowno{0}+216}] {\TbD};
\addplot[trB] table[x index=0, y index=0, x expr={225-0.5*\coordindex}, y expr={\thisrowno{0}+72.7}] {\TbE};
\addplot[dnaline] coordinates {(81.4,500.7) (81.4,72)};
\addplot[dnaarrow] coordinates {(81.4,541) (81.4,516)};
\node[dnat] at (axis cs:80.8,556) {DNA};
\node[tau] at (axis cs:140.2,517.7) {τ\textsubscript{mix} = 20.6 ms};
\node[tau] at (axis cs:140.2,439.4) {τ\textsubscript{mix} = 16 ms};
\node[tau] at (axis cs:140.2,365.4) {τ\textsubscript{mix} = 10.6 ms};
\node[tau] at (axis cs:140.2,254.4) {τ\textsubscript{mix} = 5.6 ms};
\node[tau] at (axis cs:140.2,108.7) {τ\textsubscript{mix} = 1.3 ms};
\end{axis}

% ================= panel c =================
\begin{axis}[nmr, at={(625.85pt,31.15pt)}, anchor=south west,
  width=271.65pt, xmin=-6.4, xmax=210.9,
  minor xtick={0,10,...,200},
  xlabel style={at={(axis description cs:0.5178,0)}, anchor=base, yshift=-26.65pt, font=\fontsize{9.7}{11}\selectfont}]
\addplot[trC] table[x index=0, y index=0, x expr={211-\coordindex}, y expr={\thisrowno{0}+472.7}] {\TcA};
\addplot[trC] table[x index=0, y index=0, x expr={211-\coordindex}, y expr={\thisrowno{0}+404.4}] {\TcB};
\addplot[trC] table[x index=0, y index=0, x expr={211-\coordindex}, y expr={\thisrowno{0}+324.4}] {\TcC};
\addplot[trC] table[x index=0, y index=0, x expr={211-\coordindex}, y expr={\thisrowno{0}+197.7}] {\TcD};
\addplot[trC] table[x index=0, y index=0, x expr={211-\coordindex}, y expr={\thisrowno{0}+64.4}] {\TcE};
\addplot[dnaline] coordinates {(82.6,500.7) (82.6,72.7)};
\addplot[dnaarrow] coordinates {(82.6,540.7) (82.6,515.7)};
\node[dnat] at (axis cs:82.4,555.7) {DNA};
\node[tau] at (axis cs:142.6,518.4) {τ\textsubscript{mix} = 20.6 ms};
\node[tau] at (axis cs:142.6,439.4) {τ\textsubscript{mix} = 16 ms};
\node[tau] at (axis cs:142.6,365.4) {τ\textsubscript{mix} = 10.6 ms};
\node[tau] at (axis cs:142.6,254.4) {τ\textsubscript{mix} = 5.6 ms};
\node[tau] at (axis cs:142.6,108.7) {τ\textsubscript{mix} = 1.3 ms};
\end{axis}

\node[anchor=base west, inner sep=0pt, font=\fontsize{11.5}{13}\selectfont] at (5pt,306.5pt) {a)};
\node[anchor=base west, inner sep=0pt, font=\fontsize{11.5}{13}\selectfont] at (315.85pt,307.5pt) {b)};
\node[anchor=base west, inner sep=0pt, font=\fontsize{11.5}{13}\selectfont] at (627.4pt,306pt) {c)};
\end{tikzpicture}
\end{document}
